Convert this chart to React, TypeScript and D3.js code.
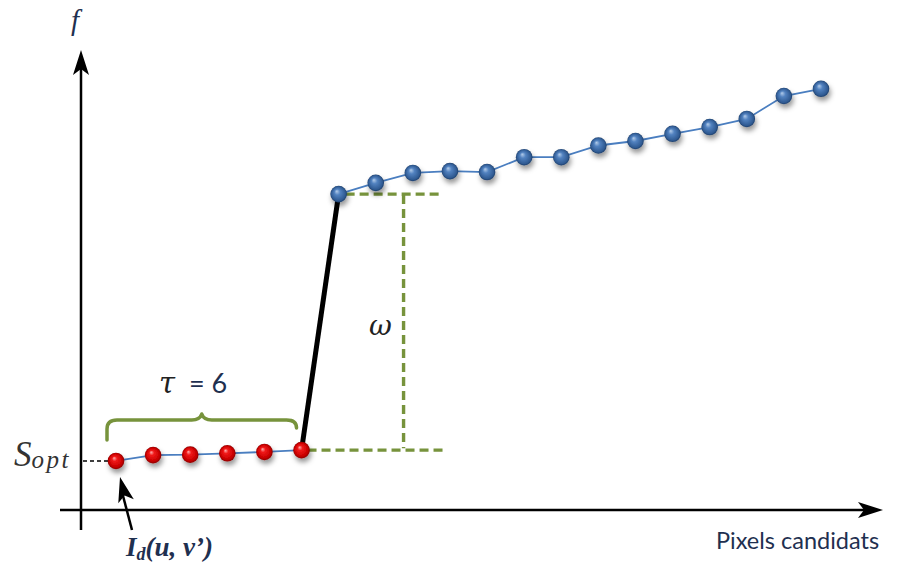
import React from "react";
import * as d3 from "d3";

// Candidate index (x) and cost value f (y)
const redIdx = [0, 1, 2, 3, 4, 5];
const redF = [10.9, 12.2, 12.3, 12.6, 12.9, 13.3];
const blueIdx = [6, 7, 8, 9, 10, 11, 12, 13, 14, 15, 16, 17, 18, 19];
const blueF = [70.2, 72.7, 74.9, 75.3, 75.1, 78.4, 78.4, 81.0, 82.0, 83.6, 85.1, 86.9, 92.0, 93.6];

const W = 901;
const H = 566;
const GREEN = "#77933C";
const NAVY = "#1F3050";

export default function App() {
  const x = d3.scaleLinear().domain([0, 19]).range([116, 821]);
  const y = d3.scaleLinear().domain([0, 100]).range([510, 60]);

  const red = redIdx.map((i, k) => ({ i, f: redF[k] }));
  const blue = blueIdx.map((i, k) => ({ i, f: blueF[k] }));
  const line = d3
    .line<{ i: number; f: number }>()
    .x((d) => x(d.i))
    .y((d) => y(d.f));

  const lastRed = red[red.length - 1];
  const firstBlue = blue[0];
  const x0 = 81; // y axis position
  const yAxis = y(0);
  const vx = x(7.75);

  // brace path over the red points
  const bx0 = x(0) - 9;
  const bx1 = x(5) - 5;
  const bm = (bx0 + bx1) / 2;
  const by = 420;
  const brace = `M${bx0},440 L${bx0},429 Q${bx0},${by} ${bx0 + 10},${by} L${bm - 10},${by} Q${bm - 2},${by} ${bm},${by - 6} Q${bm + 2},${by} ${bm + 10},${by} L${bx1 - 10},${by} Q${bx1},${by} ${bx1},428`;

  const arrowHead = (tx: number, ty: number, angle: number) => {
    const p = `M0,0 L-25,-8 L-19,0 L-25,8 Z`;
    return <path d={p} transform={`translate(${tx},${ty}) rotate(${angle})`} fill="#000" />;
  };

  return (
    <svg
      width={W}
      height={H}
      style={{ position: "absolute", left: 0, top: 0, background: "#fff" }}
    >
      <defs>
        <radialGradient id="gRed" cx="50%" cy="50%" r="50%" fx="38%" fy="32%">
          <stop offset="0%" stopColor="#ffb0b0" />
          <stop offset="30%" stopColor="#f01818" />
          <stop offset="80%" stopColor="#c80000" />
          <stop offset="100%" stopColor="#8c0000" />
        </radialGradient>
        <radialGradient id="gBlue" cx="50%" cy="50%" r="50%" fx="38%" fy="32%">
          <stop offset="0%" stopColor="#b4cdea" />
          <stop offset="35%" stopColor="#5282c0" />
          <stop offset="85%" stopColor="#2f5a92" />
          <stop offset="100%" stopColor="#1d3d68" />
        </radialGradient>
        <filter id="shadow" x="-60%" y="-60%" width="220%" height="240%">
          <feDropShadow dx="1.5" dy="4" stdDeviation="2.4" floodColor="#000" floodOpacity="0.4" />
        </filter>
      </defs>

      {/* axes */}
      <line x1={x0} x2={x0} y1={530} y2={62} stroke="#000" strokeWidth={2.5} />
      {arrowHead(x0, 50, -90)}
      <line x1={60} x2={870} y1={yAxis} y2={yAxis} stroke="#000" strokeWidth={2.5} />
      {arrowHead(883, yAxis, 0)}

      {/* axis labels */}
      <text x={71} y={30} fontFamily="Liberation Serif" fontStyle="italic" fontSize={29} fill={NAVY}>
        f
      </text>
      <text x={716} y={549} fontFamily="Lato" fontSize={23.5} fill={NAVY}>
        Pixels candidats
      </text>

      {/* S_opt */}
      <text x={14} y={466} fontFamily="Liberation Serif" fontStyle="italic" fill="#333">
        <tspan fontSize={35}>S</tspan>
        <tspan fontSize={25} dy={2} letterSpacing={2.5}>opt</tspan>
      </text>
      <line
        x1={x0 + 2}
        x2={x(0) - 6}
        y1={y(redF[0])}
        y2={y(redF[0])}
        stroke="#000"
        strokeWidth={1.5}
        strokeDasharray="4,3"
      />

      {/* green dashed annotations */}
      <g stroke={GREEN} strokeWidth={3.4} strokeDasharray="9,5" fill="none">
        <line x1={x(lastRed.i) + 6} x2={445} y1={y(lastRed.f)} y2={y(lastRed.f)} />
        <line x1={x(firstBlue.i) + 7} x2={442} y1={y(firstBlue.f)} y2={y(firstBlue.f)} />
        <line x1={vx} x2={vx} y1={y(firstBlue.f) + 1} y2={y(lastRed.f) - 2} />
      </g>
      <text x={369} y={335} fontFamily="DejaVu Serif" fontStyle="italic" fontSize={28} fill="#222">
        ω
      </text>

      {/* brace and tau */}
      <path d={brace} fill="none" stroke={GREEN} strokeWidth={3.5} strokeLinejoin="round" strokeLinecap="round" />
      <text x={159} y={393} fontFamily="DejaVu Serif" fontStyle="italic" fontSize={29} fill="#222">
        τ
      </text>
      <text x={189} y={393} fontFamily="Lato" fontSize={27} fill={NAVY}>
        = 6
      </text>

      {/* connecting lines */}
      <path d={line(red) || ""} fill="none" stroke="#4A7EC0" strokeWidth={1.8} />
      <path d={line(blue) || ""} fill="none" stroke="#4A7EC0" strokeWidth={1.8} />
      <line
        x1={x(lastRed.i)}
        y1={y(lastRed.f)}
        x2={x(firstBlue.i)}
        y2={y(firstBlue.f)}
        stroke="#000"
        strokeWidth={5}
      />

      {/* points */}
      <g filter="url(#shadow)">
        {red.map((d) => (
          <circle key={"r" + d.i} cx={x(d.i)} cy={y(d.f)} r={8.3} fill="url(#gRed)" />
        ))}
        {blue.map((d) => (
          <circle key={"b" + d.i} cx={x(d.i)} cy={y(d.f)} r={8.3} fill="url(#gBlue)" />
        ))}
      </g>

      {/* I_d(u, v') pointer */}
      <line x1={132} y1={530} x2={122} y2={492} stroke="#000" strokeWidth={2.5} />
      {arrowHead(120, 477, -104)}
      <text x={126} y={556} fontFamily="Liberation Serif" fontStyle="italic" fontWeight="bold" fill={NAVY}>
        <tspan fontSize={27}>I</tspan>
        <tspan fontSize={18} dy={4}>d</tspan>
        <tspan fontSize={27} dy={-4}>(u, v’)</tspan>
      </text>
    </svg>
  );
}
